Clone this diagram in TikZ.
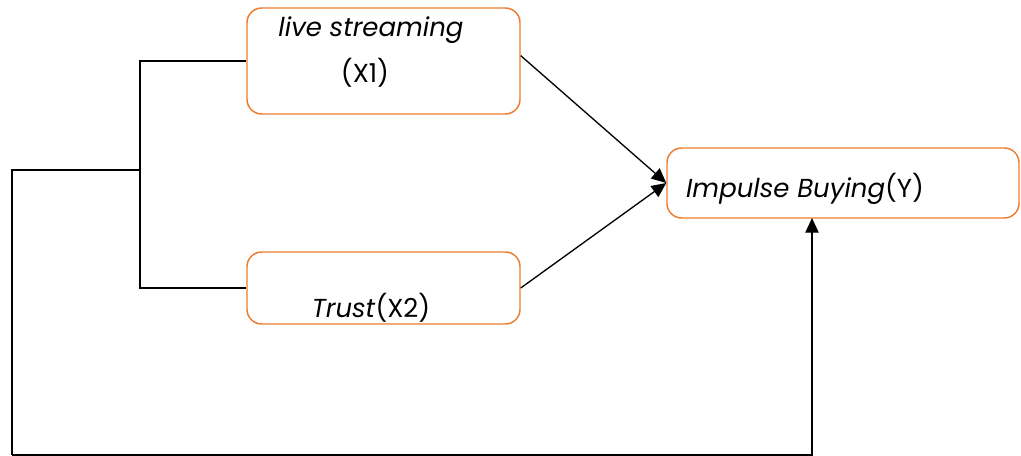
\documentclass[tikz,border=0pt]{standalone}
\usepackage{fontspec}
\setmainfont{Poppins}
\usetikzlibrary{arrows.meta}
\definecolor{boxorange}{RGB}{237,125,49}
\begin{document}
\begin{tikzpicture}[x=0.75pt, y=-0.75pt,
    vbox/.style = {draw = boxorange, line width = 1.1pt, rounded corners = 11pt, fill = white},
    txt/.style = {inner sep = 0pt, font = \fontsize{19.5}{23}\selectfont},
    link/.style = {line width = 1pt, -{Triangle[length=11pt, width=10pt]}},
    wire/.style = {line width = 1pt}]
\useasboundingbox (0,0) rectangle (1021,456);
\node[vbox, minimum width = 204.75pt, minimum height = 79.5pt] (X1) at (383.5,61) {};
\node[vbox, minimum width = 204.75pt, minimum height = 54pt] (X2) at (383.5,288) {};
\node[vbox, minimum width = 264pt, minimum height = 52.5pt] (Y) at (843,183) {};
\node[txt] (X1a) at (371,30) {\itshape live streaming};
\node[txt] (X1b) at (365,73) {(X1)};
\node[txt] (X2a) at (371,308) {\textit{Trust}(X2)};
\node[txt] (Ya) at (805,189) {\textit{Impulse Buying}(Y)};

\coordinate (J) at (140,170);
\coordinate (L) at (12,455);
\coordinate (Yin) at (812,218);

\draw[wire] (X1.west) -| (J) |- (X2.west);
\draw[wire] (J) -| (L);
\draw[link] (L) -| (Yin);
\draw[link] ([yshift=4pt]X1.east) -- (Y.west);
\draw[link] (X2.east) -- (Y.west);
\end{tikzpicture}
\end{document}
